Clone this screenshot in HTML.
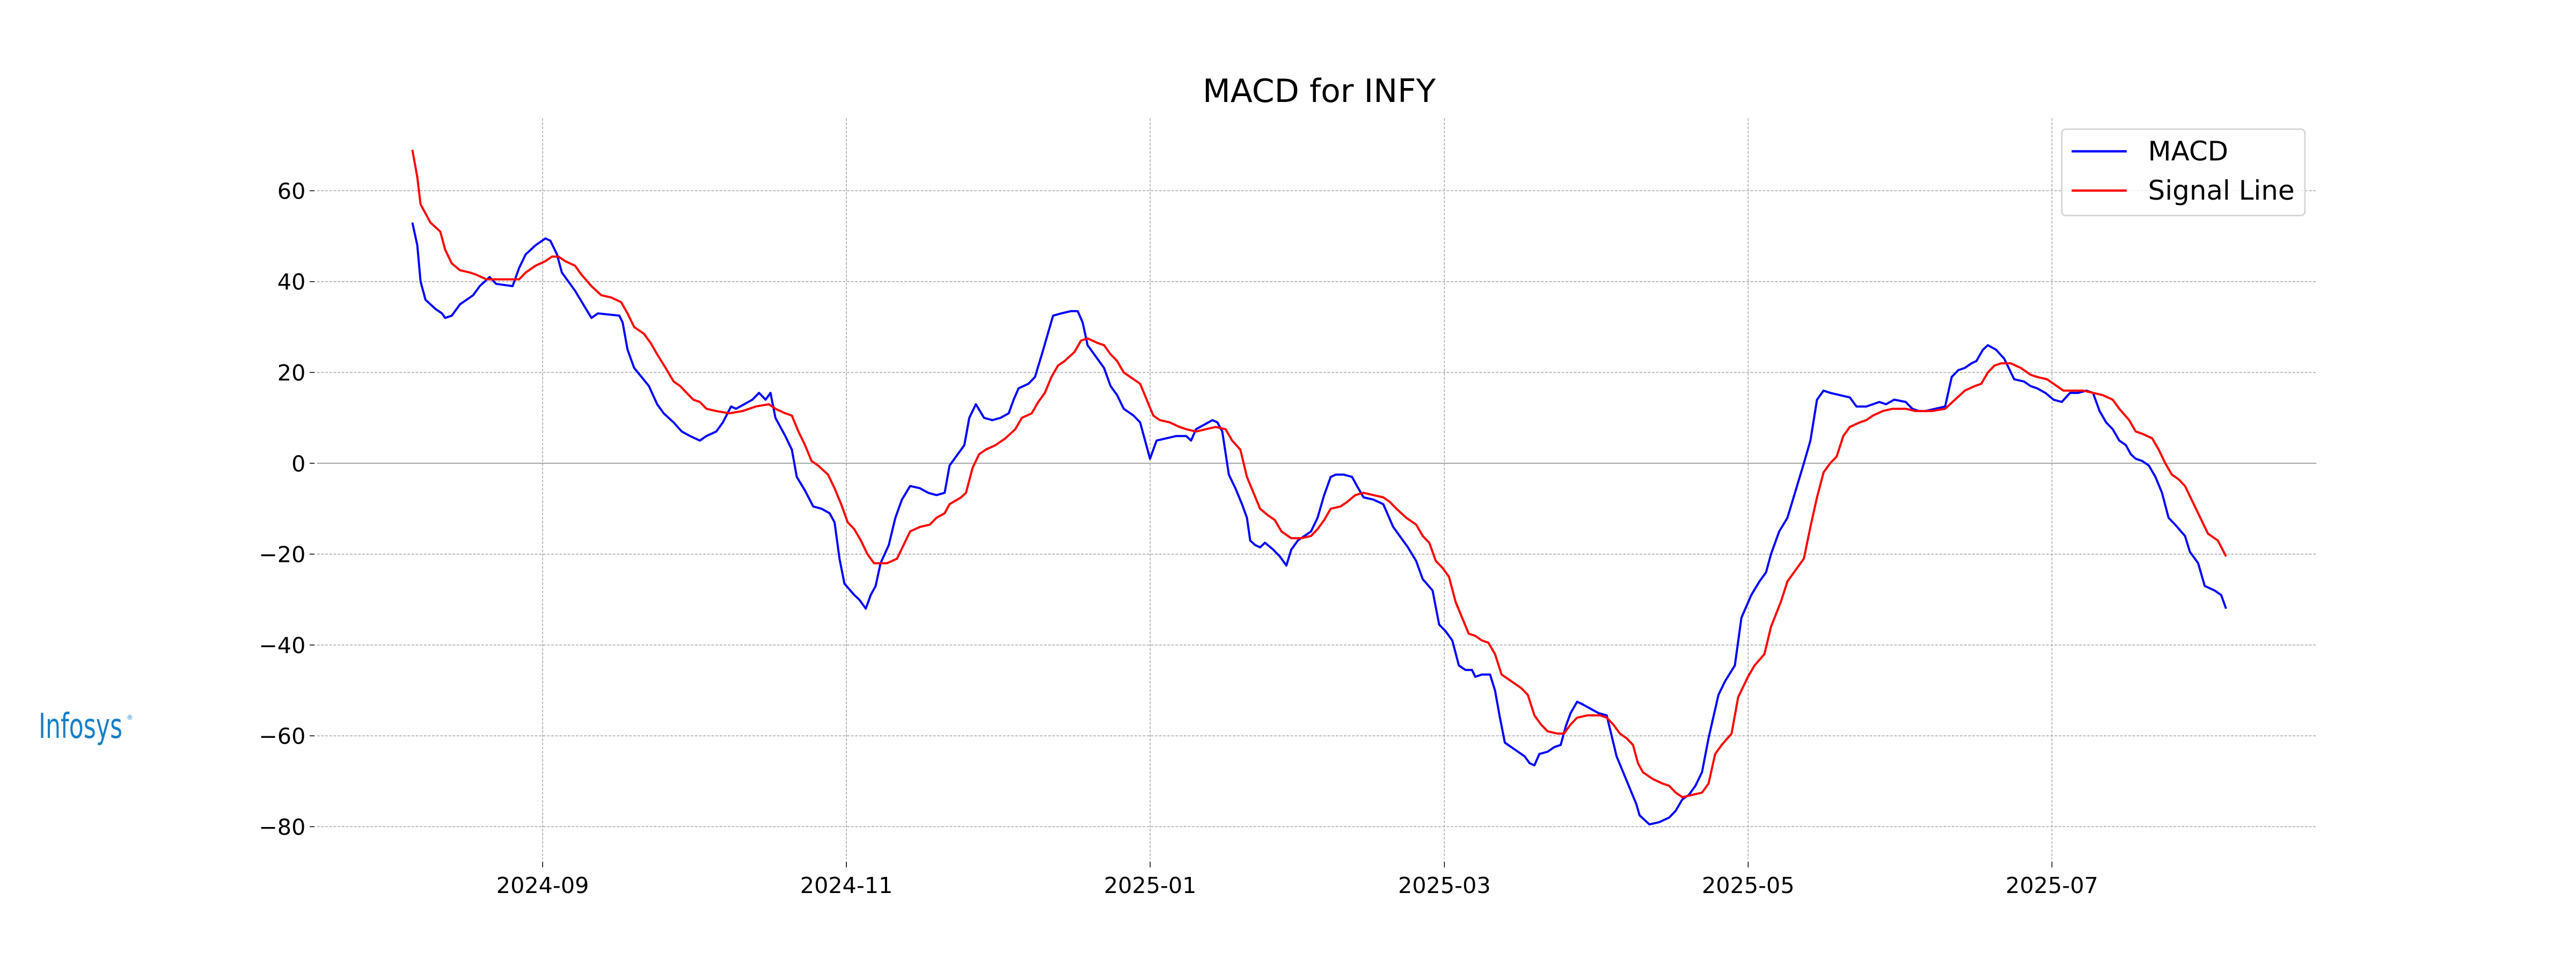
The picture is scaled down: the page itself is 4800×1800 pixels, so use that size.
<!DOCTYPE html>
<html><head><meta charset="utf-8"><style>
html,body{margin:0;padding:0;background:#fff;}
svg{display:block;}
text{font-family:"DejaVu Sans","Liberation Sans",sans-serif;}
</style></head><body>
<svg width="4800" height="1800" viewBox="0 0 1568 588" xmlns="http://www.w3.org/2000/svg">
<rect width="1568" height="588" fill="#fff"/>
<text x="803" y="62" font-size="19.6" text-anchor="middle">MACD for INFY</text>
<g stroke="#a8a8a8" stroke-width="0.5" stroke-dasharray="1.6,0.9" fill="none">
<line x1="193" x2="1410" y1="116.1" y2="116.1"/>
<line x1="193" x2="1410" y1="171.4" y2="171.4"/>
<line x1="193" x2="1410" y1="226.7" y2="226.7"/>
<line x1="193" x2="1410" y1="337.3" y2="337.3"/>
<line x1="193" x2="1410" y1="392.6" y2="392.6"/>
<line x1="193" x2="1410" y1="447.9" y2="447.9"/>
<line x1="193" x2="1410" y1="503.2" y2="503.2"/>
<line y1="72" y2="523" x1="330.3" x2="330.3"/>
<line y1="72" y2="523" x1="515.2" x2="515.2"/>
<line y1="72" y2="523" x1="700.1" x2="700.1"/>
<line y1="72" y2="523" x1="879.2" x2="879.2"/>
<line y1="72" y2="523" x1="1064.1" x2="1064.1"/>
<line y1="72" y2="523" x1="1249.0" x2="1249.0"/>
</g>
<line x1="193" x2="1410" y1="282" y2="282" stroke="#999" stroke-width="0.6"/>
<g stroke="#000" stroke-width="0.5">
<line x1="188.5" x2="191.5" y1="116.1" y2="116.1"/><line x1="188.5" x2="191.5" y1="171.4" y2="171.4"/>
<line x1="188.5" x2="191.5" y1="226.7" y2="226.7"/><line x1="188.5" x2="191.5" y1="282" y2="282"/>
<line x1="188.5" x2="191.5" y1="337.3" y2="337.3"/><line x1="188.5" x2="191.5" y1="392.6" y2="392.6"/>
<line x1="188.5" x2="191.5" y1="447.9" y2="447.9"/><line x1="188.5" x2="191.5" y1="503.2" y2="503.2"/>
<line y1="524.5" y2="528" x1="330.3" x2="330.3"/><line y1="524.5" y2="528" x1="515.2" x2="515.2"/>
<line y1="524.5" y2="528" x1="700.1" x2="700.1"/><line y1="524.5" y2="528" x1="879.2" x2="879.2"/>
<line y1="524.5" y2="528" x1="1064.1" x2="1064.1"/><line y1="524.5" y2="528" x1="1249.0" x2="1249.0"/>
</g>
<g font-size="13.5" text-anchor="end">
<text x="186" y="121">60</text><text x="186" y="176.3">40</text><text x="186" y="231.6">20</text>
<text x="186" y="286.9">0</text><text x="186" y="342.2">−20</text><text x="186" y="397.5">−40</text>
<text x="186" y="452.8">−60</text><text x="186" y="508.1">−80</text>
</g>
<g font-size="13.5" text-anchor="middle">
<text x="330.3" y="543.5">2024-09</text><text x="515.2" y="543.5">2024-11</text>
<text x="700.1" y="543.5">2025-01</text><text x="879.2" y="543.5">2025-03</text>
<text x="1064.1" y="543.5">2025-05</text><text x="1249.0" y="543.5">2025-07</text>
</g>
<g transform="translate(0,282) scale(1,-2.765)" fill="none" stroke-linejoin="round">
<polyline vector-effect="non-scaling-stroke" stroke="#0000ff" stroke-width="4" points="251,53 254,48 256,40 259,36 265,34 269,33 271,32 275,32.5 280,35 288,37 292,39 298,41 302,39.5 312,39 316,43 320,46 326,48 332,49.5 335,49 339,46 342,42 346,40 350,38 355,35 360,32 364,33 377,32.5 379,31 382,25 386,21 395,17 400,13 404,11 410,9 415,7 420,6 426,5 430,6 436,7 440,9 445,12.5 448,12 453,13 458,14 462,15.5 466,14 469,15.5 472,10 478,6 482,3 485,-3 490,-6 495,-9.5 500,-10 505,-11 508,-13 511,-21 514,-26.5 520,-29 523,-30 527,-32 530,-29 533,-27 536,-22 541,-18 545,-12 549,-8 554,-5 560,-5.5 565,-6.5 570,-7 575,-6.5 578,-0.5 582,1.5 587,4 590,10 594,13 599,10 604,9.5 609,10 614,11 617,14 620,16.5 626,17.5 630,19 635,25 641,32.5 646,33 652,33.5 656,33.5 659,31 662,26 668,23 672,21 676,17 680,15 684,12 690,10.5 694,9 697,5 700,1 704,5 710,5.5 716,6 722,6 725,5 728,7.5 733,8.5 738,9.5 741,9 744,7 748,-2.5 752,-5.5 756,-9 759,-12 761,-17 764,-18 767,-18.5 770,-17.5 775,-19 779,-20.5 783,-22.5 786,-19 790,-17 794,-16 798,-15 802,-12 806,-7 810,-3 813,-2.5 818,-2.5 823,-3 826,-5 830,-7.5 836,-8 842,-9 848,-14 852,-16 857,-18.5 862,-21.5 866,-25.5 872,-28 876,-35.5 880,-37 884,-39 888,-44.5 892,-45.5 896,-45.5 898,-47 902,-46.5 907,-46.5 910,-50 913,-56 916,-61.5 922,-63 928,-64.5 931,-66 934,-66.5 937,-64 942,-63.5 946,-62.5 950,-62 953,-58 956,-55 960,-52.5 963,-53 968,-54 973,-55 978,-55.5 981,-60 984,-64.5 988,-68 992,-71.5 996,-75 998,-77.5 1001,-78.5 1004,-79.5 1010,-79 1016,-78 1020,-76.5 1024,-74 1028,-73 1032,-71 1036,-68 1040,-60.5 1046,-51 1050,-48 1056,-44.5 1060,-34 1066,-29 1071,-26 1075,-24 1078,-20 1083,-15 1088,-12 1093,-6 1098,0 1102,5 1106,14 1110,16 1114,15.5 1120,15 1126,14.5 1130,12.5 1136,12.5 1140,13 1144,13.5 1148,13 1153,14 1160,13.5 1164,12 1168,11.5 1172,11.5 1178,12 1184,12.5 1188,19 1192,20.5 1196,21 1200,22 1203,22.5 1207,25 1210,26 1215,25 1220,23 1226,18.5 1232,18 1236,17 1240,16.5 1245,15.5 1250,14 1255,13.5 1260,15.5 1265,15.5 1270,16 1274,15.5 1278,11.5 1282,9 1286,7.5 1290,5 1294,4 1297,2 1300,1 1304,0.5 1308,-0.5 1312,-3 1316,-6.5 1320,-12 1324,-13.5 1330,-16 1333,-19.5 1338,-22 1342,-27 1348,-28 1352,-29 1355,-32"/>
<polyline vector-effect="non-scaling-stroke" stroke="#ff0000" stroke-width="4" points="251,69 254,63 256,57 259,55 262,53 268,51 271,47 275,44 280,42.5 286,42 290,41.5 296,40.5 302,40.5 310,40.5 316,40.5 320,42 326,43.5 332,44.5 336,45.5 340,45.5 344,44.5 350,43.5 354,41.5 360,39 366,37 372,36.5 378,35.5 382,33 386,30 392,28.5 396,26.5 400,24 406,20.5 410,18 414,17 418,15.5 422,14 426,13.5 430,12 436,11.5 444,11 452,11.5 460,12.5 468,13 472,12 478,11 482,10.5 486,7 490,4 494,0.5 498,-0.5 504,-2.5 508,-5.5 512,-9 516,-13 520,-14.5 524,-17 528,-20 532,-22 536,-22 540,-22 546,-21 550,-18 554,-15 560,-14 566,-13.5 570,-12 575,-11 578,-9 585,-7.5 588,-6.5 592,-1 596,2 600,3 606,4 612,5.5 618,7.5 622,10 628,11 632,13.5 636,15.5 640,19 644,21.5 648,22.5 654,24.5 658,27 662,27.5 668,26.5 672,26 676,24 680,22.5 684,20 688,19 694,17.5 698,14 702,10.5 706,9.5 712,9 718,8 722,7.5 728,7 734,7.5 740,8 746,7.5 750,5 755,3 759,-3 763,-6.5 767,-10 772,-11.5 776,-12.5 780,-15 786,-16.5 792,-16.5 798,-16 802,-14.5 806,-12.5 810,-10 816,-9.5 820,-8.5 825,-7 830,-6.5 836,-7 842,-7.5 846,-8.5 850,-10 856,-12 862,-13.5 866,-16 870,-17.5 874,-21.5 878,-23 882,-25 886,-30.5 890,-34 894,-37.5 898,-38 902,-39 906,-39.5 910,-42 914,-46.5 920,-48 926,-49.5 930,-51 934,-55.5 938,-57.5 942,-59 948,-59.5 952,-59.5 956,-57.5 960,-56 966,-55.5 974,-55.5 978,-56 982,-57.5 986,-59.5 990,-60.5 994,-62 997,-66 1000,-68 1006,-69.5 1012,-70.5 1016,-71 1020,-72.5 1024,-73.5 1030,-73 1036,-72.5 1040,-70.5 1044,-64 1048,-62 1054,-59.5 1058,-51.5 1064,-47 1068,-44.5 1074,-42 1078,-36 1084,-30.5 1088,-26 1094,-23 1098,-21 1102,-14 1106,-7.5 1110,-2 1114,0 1118,1.5 1122,6 1126,8 1132,9 1136,9.5 1140,10.5 1146,11.5 1152,12 1156,12 1160,12 1166,11.5 1170,11.5 1176,11.5 1184,12 1190,14 1196,16 1202,17 1206,17.5 1210,20 1214,21.5 1218,22 1224,22 1230,21 1236,19.5 1240,19 1246,18.5 1250,17.5 1256,16 1262,16 1268,16 1274,15.5 1280,15 1286,14 1290,12 1296,9.5 1300,7 1304,6.5 1310,5.5 1314,3 1318,0 1322,-2.5 1326,-3.5 1330,-5 1334,-8 1340,-12.5 1344,-15.5 1350,-17 1355,-20.5"/>
</g>
<rect x="1255" y="78.6" width="148" height="52.6" rx="2.5" fill="#fff" fill-opacity="0.8" stroke="#d5d5d5" stroke-width="0.9"/>
<line x1="1261" x2="1294.5" y1="92.1" y2="92.1" stroke="#0000ff" stroke-width="1.4"/>
<line x1="1261" x2="1294.5" y1="116" y2="116" stroke="#ff0000" stroke-width="1.4"/>
<text x="1307.5" y="97.6" font-size="16.3">MACD</text>
<text x="1307.5" y="121.5" font-size="16.3">Signal Line</text>
<text x="23.5" y="449.2" font-size="21" fill="#1a7fc4" textLength="51" lengthAdjust="spacingAndGlyphs" font-family="Liberation Sans, sans-serif">Infosys</text>
<text x="77" y="438" font-size="4" fill="#1a7fc4">®</text>
</svg>
</body></html>
